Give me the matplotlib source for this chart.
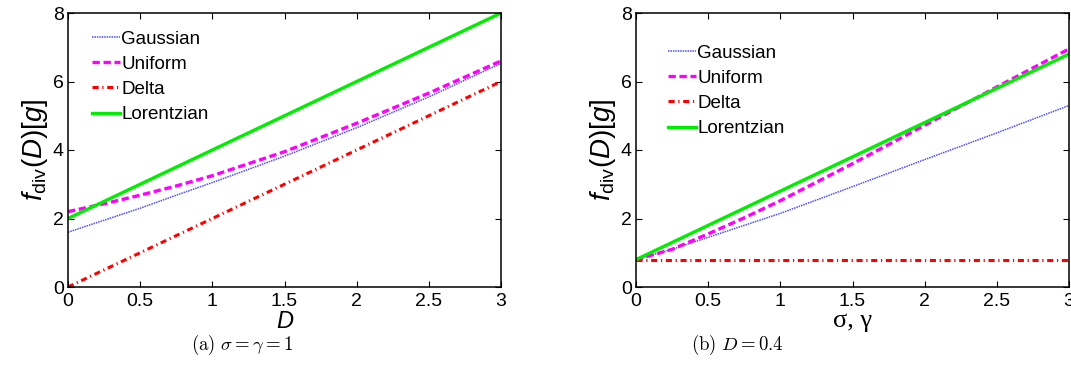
import matplotlib
matplotlib.use("Agg")
import matplotlib.pyplot as plt

# ---------------- data ----------------
x_D = [0, 0.25, 0.5, 0.75, 1, 1.5, 2, 2.5, 3]
a_gaussian = [1.6, 1.95, 2.3, 2.68, 3.05, 3.82, 4.65, 5.55, 6.53]
a_uniform = [2.2, 2.43, 2.68, 2.95, 3.25, 3.95, 4.78, 5.66, 6.6]
a_delta = [0, 0.5, 1, 1.5, 2, 3, 4, 5, 6]
a_lorentz = [2, 2.5, 3, 3.5, 4, 5, 6, 7, 8]

x_sig = [0, 0.25, 0.5, 0.75, 1, 1.5, 2, 2.5, 3]
b_gaussian = [0.8, 1.1, 1.45, 1.8, 2.15, 2.93, 3.72, 4.5, 5.3]
b_uniform = [0.8, 1.1, 1.55, 2.02, 2.52, 3.6, 4.72, 5.84, 6.95]
b_delta = [0.8, 0.8, 0.8, 0.8, 0.8, 0.8, 0.8, 0.8, 0.8]
b_lorentz = [0.8, 1.3, 1.8, 2.3, 2.8, 3.8, 4.8, 5.8, 6.8]

labels = ["Gaussian", "Uniform", "Delta", "Lorentzian"]
xticks = [0, 0.5, 1, 1.5, 2, 2.5, 3]
xticklabels = ["0", "0.5", "1", "1.5", "2", "2.5", "3"]
yticks = [0, 2, 4, 6, 8]
captions = [r"$\mathrm{(a)}\ \sigma = \gamma = 1$", r"$\mathrm{(b)}\ D = 0.4$"]

plt.rcParams["font.family"] = ["Liberation Sans", "DejaVu Sans"]
plt.rcParams["mathtext.fontset"] = "custom"
plt.rcParams["mathtext.rm"] = "Liberation Sans"
plt.rcParams["mathtext.it"] = "Liberation Sans:italic"
plt.rcParams["mathtext.bf"] = "Liberation Sans:bold"

W, H = 1071, 377
fig = plt.figure(figsize=(W / 100, H / 100), dpi=100)


def px_axes(x0, x1, ytop, ybot):
    return fig.add_axes([x0 / W, (H - ybot) / H, (x1 - x0) / W, (ybot - ytop) / H])


styles = [
    dict(color="#4f4fff", linestyle=(0, (1.0, 0.6)), linewidth=1.1),
    dict(color="#ff00ff", linestyle=(0, (2.2, 1.1)), linewidth=2.4),
    dict(color="#ff0000", linestyle=(0, (2.0, 1.2, 0.4, 1.2)), linewidth=2.2),
    dict(color="#00ee00", linestyle="-", linewidth=2.4),
]

panels = [
    (68, 501, x_D, [a_gaussian, a_uniform, a_delta, a_lorentz], "D", (24, 17.5)),
    (636, 1069, x_sig, [b_gaussian, b_uniform, b_delta, b_lorentz], "σ, γ", (32, 31.5)),
]
cap_x = [242, 737]

for i, (x0, x1, xs, series, xl, legpos) in enumerate(panels):
    ax = px_axes(x0, x1, 13, 287)
    for k in range(4):
        ax.plot(xs, series[k], label=labels[k], **styles[k])
    ax.set_xlim(0, 3)
    ax.set_ylim(0, 8)
    ax.set_xticks(xticks)
    ax.set_xticklabels(xticklabels)
    ax.set_yticks(yticks)
    ax.tick_params(direction="in", length=4, width=0.8, top=True, right=True,
                   labelsize=14)
    ax.tick_params(axis="x", pad=4.5)
    ax.tick_params(axis="y", pad=3)
    for s in ax.spines.values():
        s.set_linewidth(1.1)
    if i == 0:
        ax.set_xlabel("D", fontsize=17, style="italic", labelpad=0)
    else:
        ax.set_xlabel(xl, fontsize=19, family=["Liberation Serif", "DejaVu Serif"], labelpad=0)
    ax.set_ylabel(r"$f_{\mathrm{div}}(D)[g]$", fontsize=20, labelpad=2)
    lx, ly = legpos
    ax.legend(loc="upper left", bbox_to_anchor=(lx / (x1 - x0), 1 - ly / 274),
              frameon=False, fontsize=13.5, handlelength=1.5, handletextpad=0.05,
              labelspacing=0.43, borderpad=0, borderaxespad=0)
    fig.text(cap_x[i] / W, 1 - 345 / H, captions[i], fontsize=13.5,
             ha="center", va="center", math_fontfamily="cm")

fig.savefig("out.png", dpi=100)
